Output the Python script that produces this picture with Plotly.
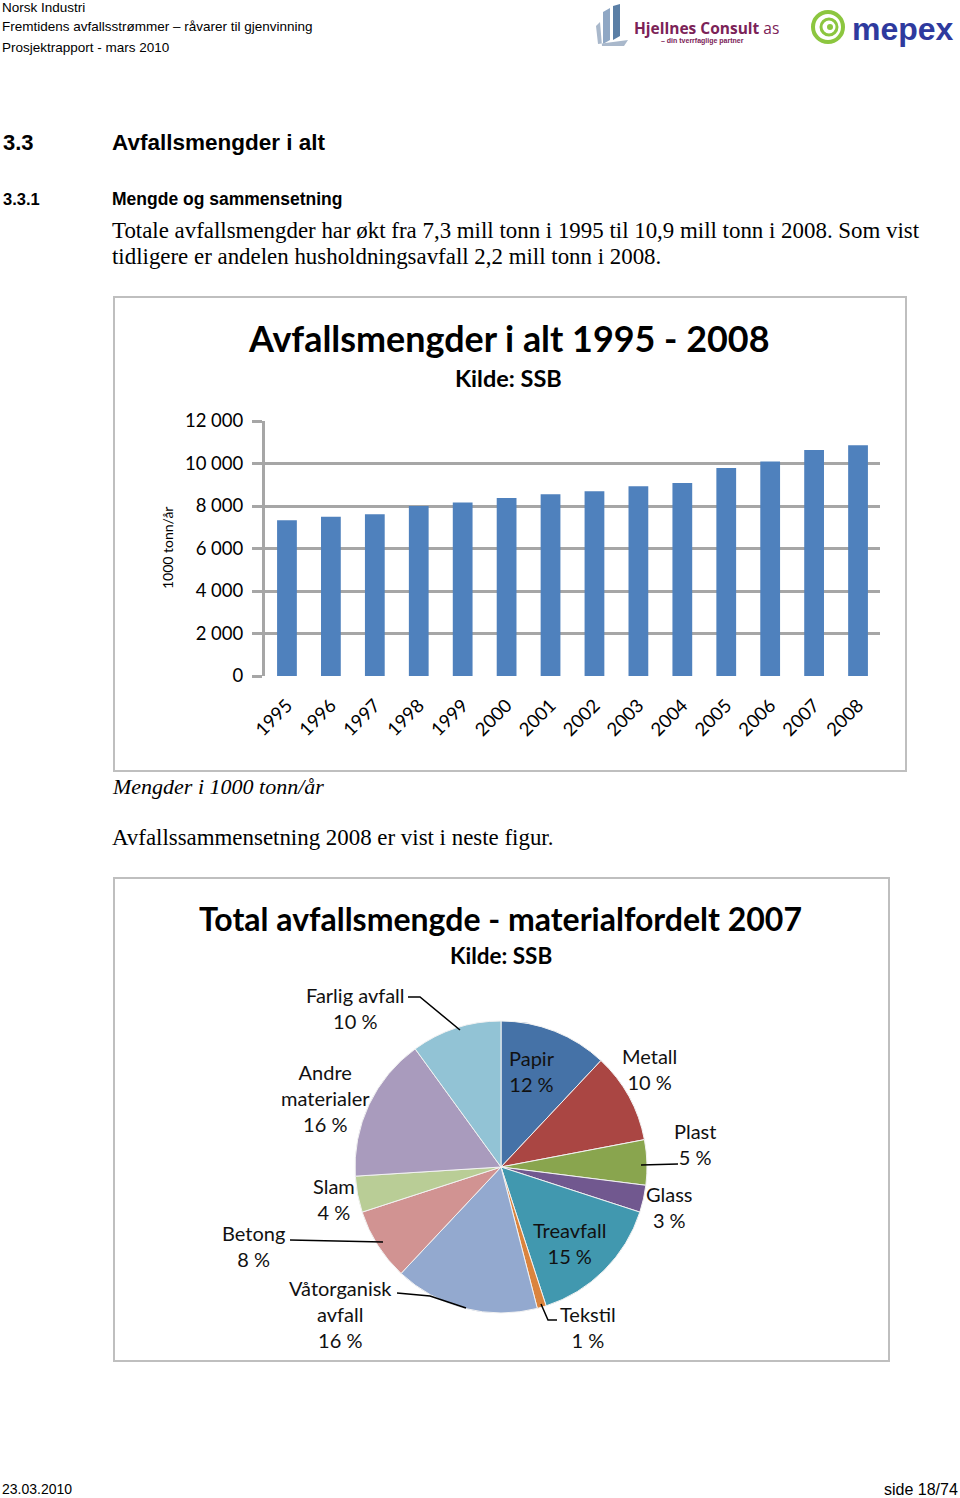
import plotly.graph_objects as go

W, H = 960, 1498

# ---------------- data ----------------
years = [str(y) for y in range(1995, 2009)]
amounts = [7330, 7490, 7610, 8000, 8160, 8380, 8550, 8690, 8930, 9080, 9790, 10100, 10630, 10860]
ytick_vals = [0, 2000, 4000, 6000, 8000, 10000, 12000]
ytick_text = ["0", "2 000", "4 000", "6 000", "8 000", "10 000", "12 000"]

materials = ["Papir", "Metall", "Plast", "Glass", "Treavfall", "Tekstil",
             "Våtorganisk avfall", "Betong", "Slam", "Andre materialer", "Farlig avfall"]
label_lines = ["Papir", "Metall", "Plast", "Glass", "Treavfall", "Tekstil",
               "Våtorganisk<br>avfall", "Betong", "Slam", "Andre<br>materialer", "Farlig avfall"]
shares = [12, 10, 5, 3, 15, 1, 16, 8, 4, 16, 10]
pie_colors = ["#4572A7", "#AA4643", "#89A54E", "#71588F", "#4198AF", "#DB843D",
              "#93A9CF", "#D19392", "#B9CD96", "#A99BBD", "#92C3D5"]

# ---------------- helpers ----------------
def px(x):
    return x / W

def py(y):
    return 1 - y / H

NARROW = "Liberation Sans, Arial"
SERIF = "Liberation Serif, Times New Roman, serif"
CAL = "Lato, Carlito, Calibri, sans-serif"

annotations = []
shapes = []

def text(x, y, s, size, family, color="#000", xanchor="left", yanchor="middle", **kw):
    annotations.append(dict(x=px(x), y=py(y), xref="paper", yref="paper", text=s,
                            showarrow=False, xanchor=xanchor, yanchor=yanchor,
                            borderpad=0, font=dict(size=size, family=family, color=color), **kw))

def rect(x0, y0, x1, y1, color="#BFBFBF", width=2, fill=None):
    shapes.append(dict(type="rect", xref="paper", yref="paper", x0=px(x0), y0=py(y0),
                       x1=px(x1), y1=py(y1), line=dict(color=color, width=width),
                       fillcolor=fill if fill else "rgba(0,0,0,0)"))

def path(pts, color, width=1, fill=None):
    d = "M " + " L ".join(f"{px(a)},{py(b)}" for a, b in pts)
    if fill:
        d += " Z"
    shapes.append(dict(type="path", xref="paper", yref="paper", path=d,
                       line=dict(color=color, width=width),
                       fillcolor=fill if fill else "rgba(0,0,0,0)"))

def circle(cx, cy, r, color, width=3, fill=None):
    shapes.append(dict(type="circle", xref="paper", yref="paper",
                       x0=px(cx - r), x1=px(cx + r), y0=py(cy + r), y1=py(cy - r),
                       line=dict(color=color, width=width),
                       fillcolor=fill if fill else "rgba(0,0,0,0)"))

# ---------------- page header ----------------
text(1, 8, "Norsk Industri", 13.5, NARROW)
text(1, 27, "Fremtidens avfallsstrømmer – råvarer til gjenvinning", 13.5, NARROW)
text(1, 47, "Prosjektrapport - mars 2010", 13.5, NARROW)

# Hjellnes logo (approximation)
path([(603, 12), (610, 8), (610, 40), (603, 44)], "#8FA7C4", 0, fill="#8FA7C4")
path([(613, 6), (620, 4), (620, 36), (613, 40)], "#5B7FA6", 0, fill="#5B7FA6")
path([(596, 26), (600, 22), (602, 46), (624, 46), (628, 40), (598, 44)], "#A9B8CB", 0, fill="#A9B8CB")
text(633, 28, "<b>Hjellnes Consult</b> as", 15.5, "Open Sans, Liberation Sans", color="#7B2257")
text(660, 41, "<b>– din tverrfaglige partner</b>", 7, "Liberation Sans", color="#7B2257")

# mepex logo (approximation)
circle(828, 27, 15, "#8CC63F", width=4)
circle(829, 27, 8, "#8CC63F", width=3)
circle(830, 27, 2, "#8CC63F", width=2, fill="#8CC63F")
text(851, 29, "<b>mepex</b>", 32, "Liberation Sans, Arial", color="#2E3A9E")

# ---------------- headings and body ----------------
text(2, 142, "<b>3.3</b>", 22, NARROW)
text(111, 142, "<b>Avfallsmengder i alt</b>", 22.5, NARROW)
text(2, 199, "<b>3.3.1</b>", 16.5, NARROW)
text(111, 199, "<b>Mengde og sammensetning</b>", 17.5, NARROW)
text(111, 230, "Totale avfallsmengder har økt fra 7,3 mill tonn i 1995 til 10,9 mill tonn i 2008. Som vist",
     22.9, SERIF)
text(111, 256, "tidligere er andelen husholdningsavfall 2,2 mill tonn i 2008.", 22.9, SERIF)
text(111, 786, "<i>Mengder i 1000 tonn/år</i>", 22, SERIF)
text(111, 837, "Avfallssammensetning 2008 er vist i neste figur.", 22.9, SERIF)

# footer
text(1, 1489, "23.03.2010", 14, NARROW)
text(959, 1489, "side 18/74", 16, NARROW, xanchor="right")

# ---------------- bar chart ----------------
rect(114, 297, 906, 771, color="#BFBFBF", width=2)
text(509, 338, "<b>Avfallsmengder i alt 1995 - 2008</b>", 35.9, CAL, xanchor="center")
text(509, 378, "<b>Kilde: SSB</b>", 23.5, CAL, xanchor="center")
text(168, 548, "1000 tonn/år", 14, CAL, xanchor="center", textangle=-90)

bar = go.Bar(x=years, y=amounts, marker=dict(color="#4F81BD", line=dict(width=0)),
             xaxis="x", yaxis="y", showlegend=False, hoverinfo="x+y")

# ---------------- pie chart ----------------
rect(114, 878, 889, 1361, color="#BFBFBF", width=2)
text(500, 918, "<b>Total avfallsmengde - materialfordelt 2007</b>", 32, CAL, xanchor="center")
text(501, 955, "<b>Kilde: SSB</b>", 22.5, CAL, xanchor="center")

cx, cy, r = 501, 1167, 146
pie = go.Pie(labels=materials, values=shares, sort=False, direction="clockwise", rotation=0,
             marker=dict(colors=pie_colors, line=dict(color="#F2F2F2", width=1)),
             textinfo="none", hoverinfo="label+percent", showlegend=False,
             domain=dict(x=[px(cx - r), px(cx + r)], y=[py(cy + r), py(cy - r)]))

# label positions (page pixels, centre of text block)
label_pos = {
    "Papir": (532, 1071), "Metall": (649, 1069), "Plast": (695, 1144), "Glass": (669, 1207),
    "Treavfall": (569, 1243), "Tekstil": (588, 1327), "Våtorganisk avfall": (340, 1314),
    "Betong": (253, 1246), "Slam": (334, 1199), "Andre materialer": (325, 1098),
    "Farlig avfall": (355, 1008),
}
for name, lab, v in zip(materials, label_lines, shares):
    x, y = label_pos[name]
    text(x, y, f"{lab}<br>{v} %", 20, CAL, color="#111", xanchor="center")

# leader lines
path([(408, 997), (420, 997), (460, 1030)], "#000", 1.5)
path([(641, 1165), (678, 1164)], "#000", 1.5)
path([(541, 1304), (548, 1320), (557, 1320)], "#000", 1.5)
path([(397, 1293), (430, 1296), (466, 1308)], "#000", 1.5)
path([(290, 1240), (383, 1242)], "#000", 1.5)

fig = go.Figure([bar, pie])
fig.update_layout(
    width=W, height=H, margin=dict(l=0, r=0, t=0, b=0, pad=0), autosize=False,
    paper_bgcolor="white", plot_bgcolor="white",
    annotations=annotations, shapes=shapes,
    bargap=0.55,
    xaxis=dict(domain=[px(265), px(880)], anchor="y", showgrid=False, showline=False,
               ticks="", tickangle=-45, tickfont=dict(size=18.5, family=CAL, color="#000"),
               ticklabelstandoff=14, automargin=False, fixedrange=True),
    yaxis=dict(domain=[py(676), py(421)], anchor="x", range=[0, 12000],
               tickvals=ytick_vals, ticktext=ytick_text,
               tickfont=dict(size=18.5, family=CAL, color="#000"),
               showgrid=True, gridcolor="#A6A6A6", gridwidth=3,
               showline=True, linecolor="#A6A6A6", linewidth=3,
               ticks="outside", ticklen=10, tickwidth=3, tickcolor="#A6A6A6",
               ticklabelstandoff=5, zeroline=False, automargin=False, fixedrange=True),
)
fig.write_html("out.html", config={"displayModeBar": False},
               post_script="document.body.style.margin='0';document.body.style.padding='0';"
                           "document.body.style.overflow='hidden';")
